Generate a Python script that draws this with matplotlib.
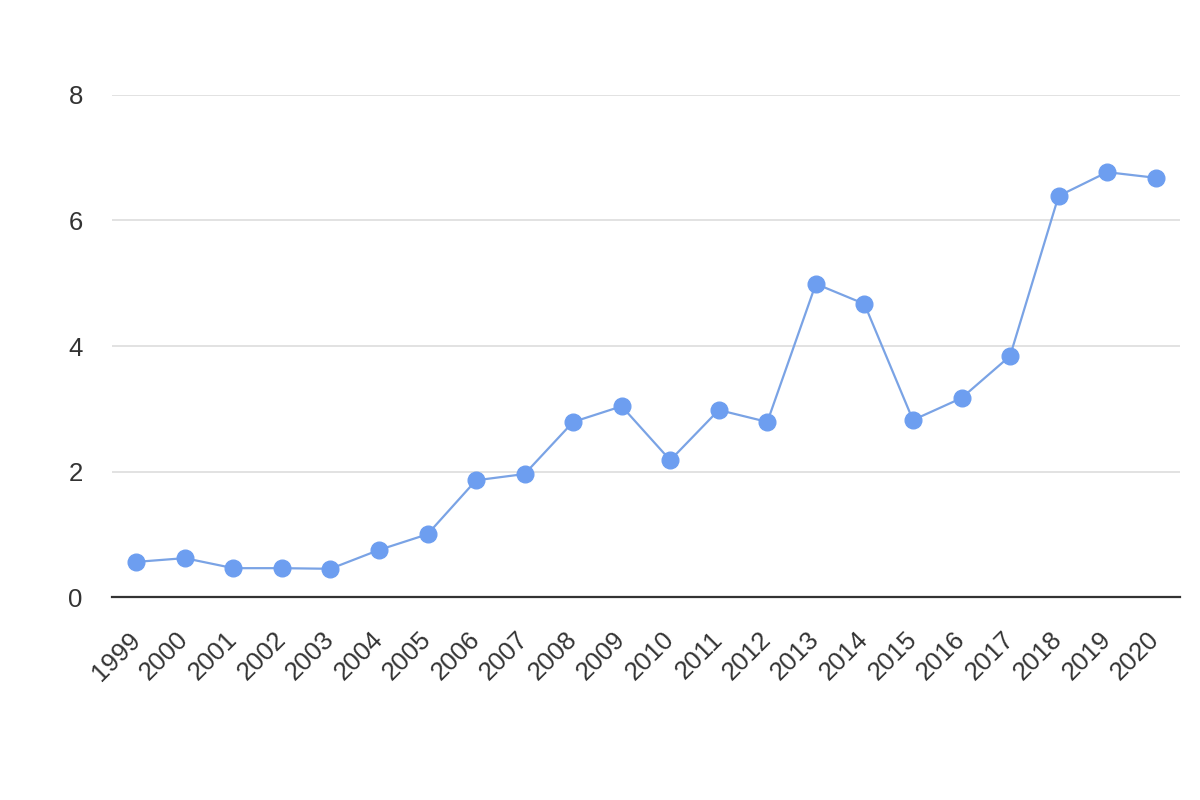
import numpy as np
import matplotlib.pyplot as plt

# Data
years = [str(y) for y in range(1999, 2021)]
values = [0.56, 0.62, 0.46, 0.46, 0.45, 0.75, 1.00, 1.86, 1.96, 2.79, 3.04,
          2.18, 2.98, 2.79, 4.99, 4.67, 2.82, 3.17, 3.84, 6.39, 6.77, 6.68]
y_ticks = [0, 2, 4, 6, 8]

plt.rcParams['font.family'] = ['Liberation Sans', 'DejaVu Sans']

fig = plt.figure(figsize=(12, 8), dpi=100)
ax = fig.add_axes([0.0933, 0.2537, 0.89, 0.6276])

x = np.arange(len(years))
ax.plot(x, values, color='#7aa3e5', linewidth=1.6, marker='o', markersize=12,
        markerfacecolor='#6d9ef0', markeredgecolor='#6d9ef0', clip_on=False, zorder=3)

ax.set_xlim(-0.5, len(years) - 0.5)
ax.set_ylim(0, 8)
ax.set_yticks(y_ticks)
ax.set_yticklabels([str(t) for t in y_ticks])
ax.set_xticks(x)
ax.set_xticklabels(years, rotation=45, ha='right', va='center', rotation_mode='anchor')

ax.grid(axis='y', color='#dddddd', linewidth=1.2)
ax.set_axisbelow(True)
for side in ['top', 'right', 'left']:
    ax.spines[side].set_visible(False)
ax.spines['bottom'].set_color('#333333')
ax.spines['bottom'].set_linewidth(1.6)
ax.spines['bottom'].set_zorder(2)

ax.tick_params(axis='both', length=0, labelsize=18.5, labelcolor='#333333')
ax.tick_params(axis='y', pad=21)
ax.tick_params(axis='x', pad=28)

fig.savefig('out.png', dpi=100, facecolor='white')
